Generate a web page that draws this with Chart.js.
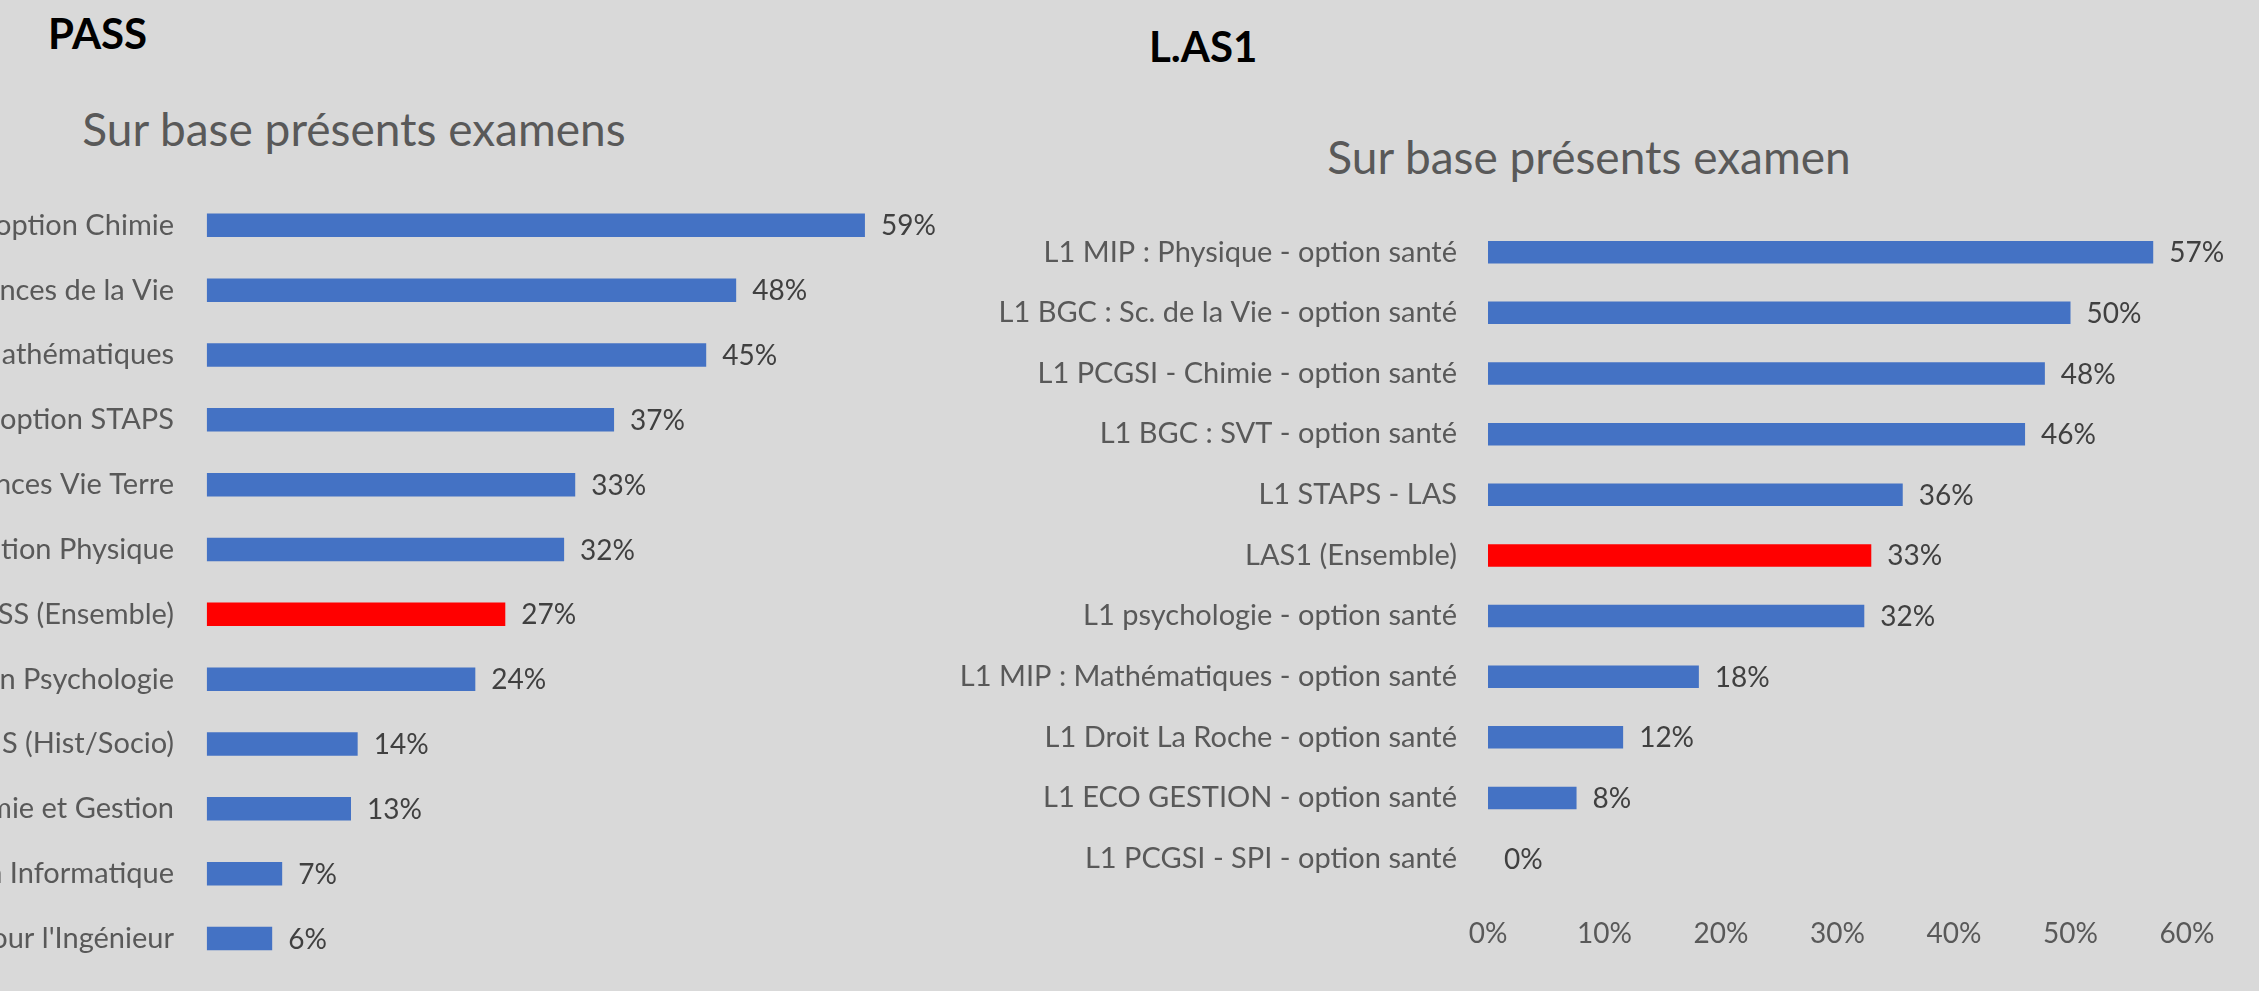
<!DOCTYPE html>
<html>
<head>
<meta charset="utf-8">
<script src="https://cdn.jsdelivr.net/npm/chart.js@4.4.1/dist/chart.umd.min.js"></script>
<style>
  html, body { margin:0; padding:0; width:2259px; height:991px; overflow:hidden; background:#d9d9d9; font-family: Lato, sans-serif; }
  .txt { position:absolute; white-space:nowrap; line-height:1; }
  canvas { position:absolute; }
</style>
</head>
<body>
<div class="txt" id="h1" style="left:48px; top:12px; font-size:42px; font-weight:bold; color:#000;">PASS</div>
<div class="txt" id="h2" style="left:1149px; top:25px; font-size:42px; font-weight:bold; color:#000;">L.AS1</div>
<div class="txt" id="t1" style="left:54px; width:600px; text-align:center; top:106px; font-size:46px; color:#595959;">Sur base présents examens</div>
<div class="txt" id="t2" style="left:1289px; width:600px; text-align:center; top:134px; font-size:46px; color:#595959;">Sur base présents examen</div>
<div style="position:absolute; left:-700px; top:0; width:1700px; height:1073px;"><canvas id="c1"></canvas></div>
<div style="position:absolute; left:900px; top:0; width:1359px; height:991px;"><canvas id="c2"></canvas></div>
<script>
// ---- PASS data ----
const passCategories = [
  "PASS - option Chimie",
  "PASS - option Sciences de la Vie",
  "PASS - option Mathématiques",
  "PASS - option STAPS",
  "PASS - option Sciences Vie Terre",
  "PASS - option Physique",
  "PASS (Ensemble)",
  "PASS - option Psychologie",
  "PASS - option SHS (Hist/Socio)",
  "PASS - option Economie et Gestion",
  "PASS - option Informatique",
  "PASS - option Sciences pour l'Ingénieur"
];
const passValues = [59.3, 47.7, 45.0, 36.7, 33.2, 32.2, 26.9, 24.2, 13.6, 13.0, 6.8, 5.9];
const passHighlight = "PASS (Ensemble)";

// ---- L.AS1 data ----
const lasCategories = [
  "L1 MIP : Physique - option santé",
  "L1 BGC : Sc. de la Vie - option santé",
  "L1 PCGSI - Chimie - option santé",
  "L1 BGC : SVT - option santé",
  "L1 STAPS - LAS",
  "LAS1 (Ensemble)",
  "L1 psychologie - option santé",
  "L1 MIP : Mathématiques - option santé",
  "L1 Droit La Roche - option santé",
  "L1 ECO GESTION - option santé",
  "L1 PCGSI - SPI - option santé"
];
const lasValues = [57.1, 50.0, 47.8, 46.1, 35.6, 32.9, 32.3, 18.1, 11.6, 7.6, 0];
const lasHighlight = "LAS1 (Ensemble)";

const xTicks = [0, 10, 20, 30, 40, 50, 60];

const FONT = "Lato";
const BLUE = "#4472c4", RED = "#ff0000";

const valueLabels = {
  id: 'valueLabels',
  afterDatasetsDraw(chart) {
    const ctx = chart.ctx;
    ctx.save();
    ctx.font = "28px " + FONT;
    ctx.fillStyle = "#404040";
    ctx.textAlign = "left";
    ctx.textBaseline = "middle";
    const meta = chart.getDatasetMeta(0);
    const data = chart.data.datasets[0].data;
    meta.data.forEach((bar, i) => {
      ctx.fillText(Math.round(data[i]) + "%", bar.x + 16, bar.y + 1);
    });
    ctx.restore();
  }
};

function makeChart(id, cats, vals, hl, opts) {
  return new Chart(document.getElementById(id), {
    type: 'bar',
    data: {
      labels: cats,
      datasets: [{
        data: vals,
        backgroundColor: cats.map(c => c === hl ? RED : BLUE),
        barThickness: opts.thick,
        borderWidth: 0,
        inflateAmount: 0
      }]
    },
    plugins: [valueLabels],
    options: {
      indexAxis: 'y',
      responsive: true,
      maintainAspectRatio: false,
      animation: false,
      layout: { padding: opts.padding },
      plugins: { legend: { display: false }, tooltip: { enabled: false }, title: { display: false } },
      scales: {
        x: {
          min: 0, max: 60,
          grid: { display: false, drawTicks: false },
          border: { display: false },
          afterBuildTicks: (s) => { s.ticks = xTicks.map(v => ({ value: v })); },
          afterFit: (s) => { s.height = opts.xHeight; },
          ticks: {
            padding: opts.xPad,
            color: "#595959",
            font: { family: FONT, size: 28 },
            callback: (v) => v + "%"
          }
        },
        y: {
          grid: { display: false, drawTicks: false },
          border: { display: false },
          afterFit: (s) => { s.width = opts.yWidth; },
          ticks: {
            padding: opts.yPad,
            color: "#595959",
            font: { family: FONT, size: 29 },
            autoSkip: false
          }
        }
      }
    }
  });
}

makeChart('c1', passCategories, passValues, passHighlight, {
  thick: 23.5,
  padding: { left: 0, right: 127.3, top: 192.9, bottom: 0 },
  xHeight: 102.1, xPad: 28,
  yWidth: 906.7, yPad: 32.7
});
makeChart('c2', lasCategories, lasValues, lasHighlight, {
  thick: 22.5,
  padding: { left: 0, right: 72, top: 221.9, bottom: 0 },
  xHeight: 102.1, xPad: 28,
  yWidth: 588, yPad: 31
});
</script>
</body>
</html>
